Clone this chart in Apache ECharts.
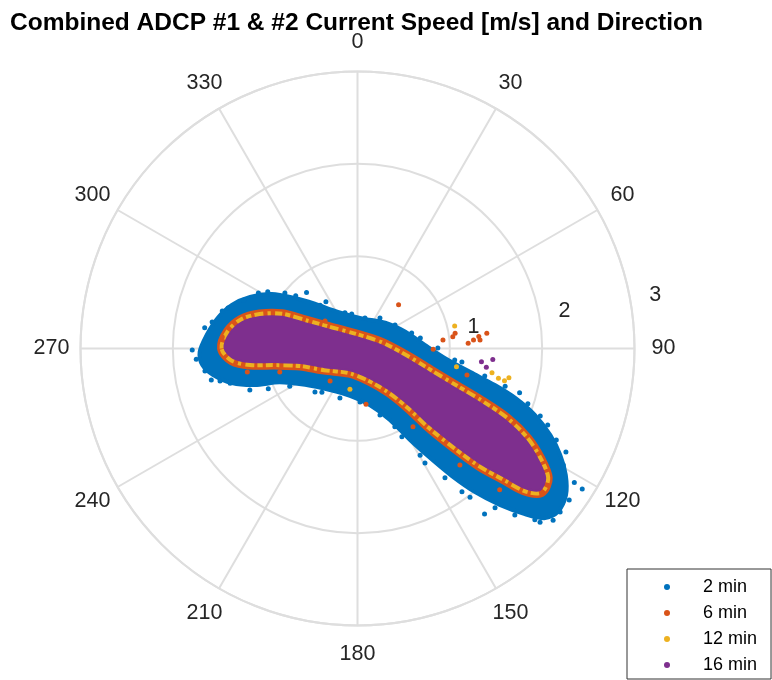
<!DOCTYPE html>
<html>
<head>
<meta charset="utf-8">
<script src="https://cdn.jsdelivr.net/npm/echarts@6/dist/echarts.min.js"></script>
<style>
  html, body { margin: 0; padding: 0; background: #fff; }
  #chart { width: 772px; height: 680px; }
</style>
</head>
<body>
<div id="chart"></div>
<script>
// speed [m/s] and direction [deg] ticks
const speedTicks = [1, 2, 3]
const directionTicks = [0, 30, 60, 90, 120, 150, 180, 210, 240, 270, 300, 330]
const seriesNames = ['2 min', '6 min', '12 min', '16 min']
const seriesColors = ['#0072BD', '#D95319', '#EDB120', '#7E2F8E']

// dense cloud outlines, [speed, direction]
const cloud2min = [
  [1.71, 268.7], [1.64, 275.1], [1.55, 282.3], [1.44, 289.1], [1.29, 295.6], [1.10, 302.5],
  [0.87, 308.9], [0.67, 316.3], [0.45, 331.9], [0.33, 8.4], [0.41, 47.2], [0.55, 70.8],
  [0.73, 87.0], [0.95, 96.2], [1.25, 101.8], [1.54, 104.9], [1.79, 107.4], [2.05, 110.5],
  [2.29, 114.2], [2.48, 117.7], [2.64, 121.3], [2.76, 125.1], [2.80, 129.2], [2.74, 132.1],
  [2.55, 134.7], [2.29, 137.7], [2.01, 140.7], [1.72, 143.5], [1.42, 146.5], [1.14, 150.2],
  [0.85, 155.6], [0.63, 167.5], [0.52, 189.0], [0.54, 213.5], [0.69, 235.2], [0.92, 246.6],
  [1.18, 250.4], [1.41, 254.6], [1.59, 259.6], [1.69, 263.9]
]
const cloudCore = [
  [1.44, 270.2], [1.39, 276.9], [1.28, 282.9], [1.11, 287.9], [0.89, 292.7], [0.63, 295.9],
  [0.36, 303.9], [0.13, 347.7], [0.25, 81.2], [0.53, 101.3], [0.83, 108.7], [1.14, 112.1],
  [1.45, 114.0], [1.78, 115.9], [2.07, 118.6], [2.30, 121.7], [2.47, 124.6], [2.50, 127.8],
  [2.36, 129.8], [2.12, 131.1], [1.82, 133.1], [1.49, 134.7], [1.14, 136.5], [0.84, 137.6],
  [0.57, 141.9], [0.35, 157.0], [0.25, 199.2], [0.41, 240.4], [0.64, 255.8], [0.91, 260.7],
  [1.17, 262.8], [1.35, 265.6]
]

// scattered points around the dense clouds
const spread2min = [
  [1.75, 266.2], [1.67, 277.7], [1.52, 285.5], [1.34, 293.1], [1.15, 302.3], [0.82, 317.7],
  [0.61, 325.9], [0.38, 350.5], [0.41, 36.4], [0.61, 74.1], [0.87, 89.6], [1.14, 97.4],
  [1.65, 104.3], [1.94, 108.0], [2.22, 111.9], [2.52, 116.4], [2.76, 121.7], [2.87, 122.0],
  [2.82, 131.3], [2.67, 134.0], [2.26, 142.5], [1.92, 143.9], [1.34, 149.6], [0.94, 154.5],
  [0.57, 199.5], [0.66, 224.3], [1.06, 245.7], [1.43, 254.7], [1.62, 257.8], [1.79, 269.5],
  [1.60, 280.3], [1.47, 287.4], [1.23, 299.2], [0.99, 307.4], [0.88, 310.5], [0.62, 319.2],
  [0.41, 340.6], [0.34, 13.8], [0.48, 57.9], [0.69, 80.5], [1.06, 96.7], [1.41, 102.2],
  [1.82, 105.3], [2.11, 110.3], [2.37, 114.7], [2.56, 119.5], [2.82, 125.6], [2.82, 128.9],
  [2.73, 133.6], [2.48, 136.6], [2.28, 139.2], [2.02, 142.9], [1.69, 145.9], [1.44, 149.5],
  [1.07, 153.3], [0.76, 161.3], [0.58, 177.3], [0.61, 219.2], [0.84, 240.9], [1.25, 248.9],
  [1.53, 256.7], [1.67, 261.6]
]
const spread6min = [
  [0.65, 43.2], [0.93, 84.3], [1.04, 82.9], [1.07, 81.1], [1.20, 87.3], [1.26, 85.8],
  [1.32, 84.4], [1.33, 86.0], [1.41, 83.3], [0.82, 90.6], [1.22, 103.6], [0.61, 171.3],
  [1.47, 274.9], [1.22, 258.0], [0.88, 253.1], [0.46, 220.2], [0.46, 310.2], [1.04, 144.7],
  [1.68, 138.7], [2.17, 134.8]
]
const spread12min = [
  [1.08, 77.0], [1.09, 100.4], [1.48, 100.2], [1.56, 101.9], [1.63, 102.4], [1.67, 100.9], [0.45, 190.5]
]
const spread16min = [[1.35, 96.1], [1.47, 94.6], [1.41, 98.3]]

const CX = 357.5
const CY = 348.5
const R = 277
const FONT = '"Liberation Sans", Arial, Helvetica, sans-serif'
const gridLine = { color: '#dedede', width: 2 }

const chart = echarts.init(document.getElementById('chart'), null, { renderer: 'canvas' })

// filled cloud drawn through the polar coord system
function cloudSeries(name, color, pts, strokeWidth, dash) {
  return {
    name: name,
    type: 'custom',
    coordinateSystem: 'polar',
    silent: true,
    itemStyle: { color: color },
    data: pts,
    renderItem: function (params, api) {
      if (params.dataIndex !== 0) return null
      return {
        type: 'polygon',
        shape: { points: pts.map(p => api.coord(p)), smooth: 0.3 },
        style: {
          fill: color,
          stroke: color,
          lineWidth: strokeWidth,
          lineJoin: 'round',
          lineCap: 'butt',
          lineDash: dash || null
        }
      }
    }
  }
}

function spreadSeries(name, color, pts) {
  return {
    name: name,
    type: 'scatter',
    coordinateSystem: 'polar',
    silent: true,
    symbolSize: 5,
    itemStyle: { color: color, opacity: 1 },
    data: pts
  }
}

const rad = d => d * Math.PI / 180
const labelStyle = (text) => ({
  text: text,
  font: '21.5px ' + FONT,
  fill: '#262626',
  align: 'center',
  verticalAlign: 'middle',
  textAlign: 'center',
  textVerticalAlign: 'middle'
})

const option = {
  animation: false,
  backgroundColor: '#fff',
  title: {
    text: 'Combined ADCP #1 & #2 Current Speed [m/s] and Direction',
    left: 5,
    top: 6,
    textStyle: { fontFamily: FONT, fontSize: 24.5, fontWeight: 'bold', color: '#000' }
  },
  legend: {
    data: seriesNames,
    orient: 'vertical',
    left: 627,
    top: 569,
    icon: 'circle',
    itemWidth: 6,
    itemHeight: 6,
    itemGap: 6,
    padding: [8, 14, 4, 37],
    borderColor: '#333',
    borderWidth: 1,
    backgroundColor: '#fff',
    textStyle: { fontFamily: FONT, fontSize: 18, color: '#000', lineHeight: 20, padding: [0, 0, 0, 28] }
  },
  polar: { center: [CX, CY], radius: R },
  angleAxis: {
    type: 'value',
    min: 0,
    max: 360,
    interval: 30,
    startAngle: 90,
    clockwise: true,
    axisLine: { show: true, lineStyle: gridLine },
    axisTick: { show: false },
    axisLabel: { show: false },
    splitLine: { show: true, lineStyle: gridLine }
  },
  radiusAxis: {
    type: 'value',
    min: 0,
    max: 3,
    interval: 1,
    axisLine: { show: false },
    axisTick: { show: false },
    axisLabel: { show: false },
    splitLine: { show: true, lineStyle: gridLine }
  },
  graphic: [
    ...directionTicks.map(d => ({
      type: 'text',
      silent: true,
      x: CX + (R + 29) * Math.sin(rad(d)),
      y: CY - (R + 29) * Math.cos(rad(d)),
      style: labelStyle(String(d))
    })),
    ...speedTicks.map(v => ({
      type: 'text',
      silent: true,
      x: CX + (R * v / 3) * Math.sin(rad(80)) + 25,
      y: CY - (R * v / 3) * Math.cos(rad(80)) - 5,
      style: labelStyle(String(v))
    }))
  ],
  series: [
    cloudSeries(seriesNames[0], seriesColors[0], cloud2min, 4),
    spreadSeries(seriesNames[0], seriesColors[0], spread2min),
    cloudSeries(seriesNames[1], seriesColors[1], cloudCore, 15),
    spreadSeries(seriesNames[1], seriesColors[1], spread6min),
    cloudSeries(seriesNames[2], seriesColors[2], cloudCore, 10, [5, 3, 9, 4, 3, 4, 7, 3]),
    spreadSeries(seriesNames[2], seriesColors[2], spread12min),
    cloudSeries(seriesNames[3], seriesColors[3], cloudCore, 2),
    spreadSeries(seriesNames[3], seriesColors[3], spread16min)
  ]
}

chart.setOption(option)
</script>
</body>
</html>
